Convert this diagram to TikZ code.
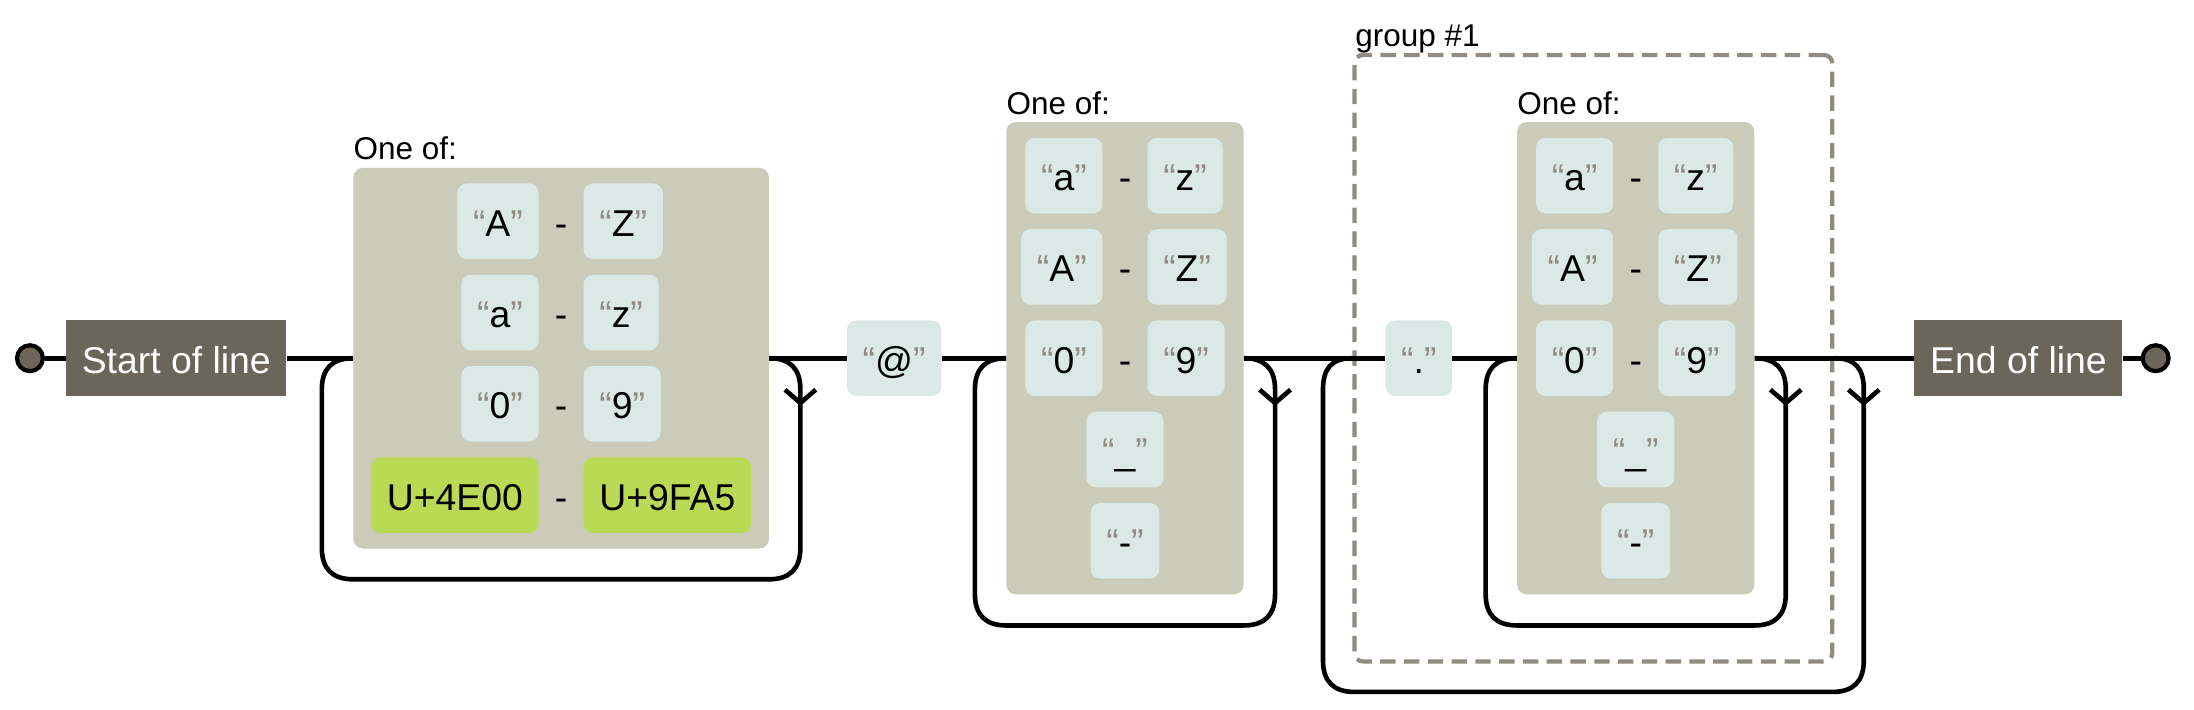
\documentclass[tikz,border=0pt]{standalone}
\usepackage{fontspec}
\setmainfont{Liberation Sans}
\usetikzlibrary{positioning}
\definecolor{setc}{HTML}{CBCBBA}
\definecolor{litc}{HTML}{DAE9E5}
\definecolor{rangec}{HTML}{BADA55}
\definecolor{anchc}{HTML}{6B6659}
\definecolor{quotec}{HTML}{908C83}
\newcommand\qt[1]{\textcolor{quotec}{“}#1\textcolor{quotec}{”}}
\newcommand\rrloop[4]{% node, xL, xR, yB
  \draw[conn] (#1.east) .. controls +(15,0) and +(0,-15) .. (#3,278.5)
    -- (#3,#4-22.5) .. controls +(0,15) and +(15,0) .. (#3-22.5,#4)
    -- (#2+22.5,#4) .. controls +(-15,0) and +(0,15) .. (#2,#4-22.5)
    -- (#2,278.5) .. controls +(0,-15) and +(-15,0) .. (#1.west);
  \draw[conn] (#3-11,278.5) -- (#3,288) -- (#3+11,278.5);}
\begin{document}
\begin{tikzpicture}[x=1pt,y=-1pt,
  conn/.style={line width=3.3pt, draw=black},
  txt/.style={text height=24pt, text depth=2.6pt, font=\fontsize{26.7}{32}\selectfont},
  lit/.style={txt, fill=litc, rounded corners=6.75pt, minimum height=54pt, inner xsep=11.25pt, inner ysep=0pt},
  rng/.style={lit, fill=rangec},
  dashn/.style={txt, inner sep=0pt, minimum height=54pt},
  setbox/.style={fill=setc, rounded corners=6.75pt, inner sep=0pt},
  anch/.style={txt, fill=anchc, text=white, minimum height=54pt, inner xsep=11.25pt, inner ysep=0pt},
  term/.style={circle, draw=black, fill=anchc, line width=3pt, minimum size=18.5pt, inner sep=0pt},
  lbl/.style={inner sep=0pt, font=\fontsize{22.5}{27}\selectfont},
  grpbox/.style={draw=quotec, line width=3pt, dash pattern=on 11pt off 6pt, rounded corners=6pt, inner sep=0pt},
]
\useasboundingbox (0,0) rectangle (1568,507);

% group box
\node[grpbox, minimum width=341.5pt, minimum height=433.4pt] (grp) at (1138.75,256) {};
\node[lbl, anchor=base west] (glbl) at (968.4,33.3) {group \#1};

% terminals
\node[term] (c0) at (21.4,256) {};
\node[anch, anchor=west] (start) at (47,256) {Start of line};
\node[anch, anchor=west] (endn) at (1368,256) {End of line};
\node[term] (c1) at (1540.6,256) {};

% charset 1
\node[setbox, minimum width=297pt, minimum height=272pt] (set1) at (401,256) {};
\node[lbl, anchor=base west] (l1) at (252.5,113.9) {One of:};
\node[dashn] (d11) at (401,158.1) {-};
\node[lit, left=11.25pt of d11] (a11) {\qt{A}};
\node[lit, right=11.25pt of d11] (b11) {\qt{Z}};
\node[dashn] (d12) at (401,223.4) {-};
\node[lit, left=11.25pt of d12] (a12) {\qt{a}};
\node[lit, right=11.25pt of d12] (b12) {\qt{z}};
\node[dashn] (d13) at (401,288.6) {-};
\node[lit, left=11.25pt of d13] (a13) {\qt{0}};
\node[lit, right=11.25pt of d13] (b13) {\qt{9}};
\node[dashn] (d14) at (401,353.9) {-};
\node[rng, left=11.25pt of d14] (a14) {U+4E00};
\node[rng, right=11.25pt of d14] (b14) {U+9FA5};

% @
\node[lit] (at) at (639,256) {\qt{@}};

% charset 2
\node[setbox, minimum width=169.5pt, minimum height=337.5pt] (set2) at (804,256) {};
\node[lbl, anchor=base west] (l2) at (719.25,82) {One of:};
\node[dashn] (d21) at (804,125.5) {-};
\node[lit, left=11.25pt of d21] (a21) {\qt{a}};
\node[lit, right=11.25pt of d21] (b21) {\qt{z}};
\node[dashn] (d22) at (804,190.75) {-};
\node[lit, left=11.25pt of d22] (a22) {\qt{A}};
\node[lit, right=11.25pt of d22] (b22) {\qt{Z}};
\node[dashn] (d23) at (804,256) {-};
\node[lit, left=11.25pt of d23] (a23) {\qt{0}};
\node[lit, right=11.25pt of d23] (b23) {\qt{9}};
\node[lit] (u2) at (804,321.25) {\qt{\_}};
\node[lit] (h2) at (804,386.5) {\qt{-}};

% dot
\node[lit] (dot) at (1014,256) {\qt{.}};

% charset 3
\node[setbox, minimum width=169.5pt, minimum height=337.5pt] (set3) at (1169,256) {};
\node[lbl, anchor=base west] (l3) at (1084.25,82) {One of:};
\node[dashn] (d31) at (1169,125.5) {-};
\node[lit, left=11.25pt of d31] (a31) {\qt{a}};
\node[lit, right=11.25pt of d31] (b31) {\qt{z}};
\node[dashn] (d32) at (1169,190.75) {-};
\node[lit, left=11.25pt of d32] (a32) {\qt{A}};
\node[lit, right=11.25pt of d32] (b32) {\qt{Z}};
\node[dashn] (d33) at (1169,256) {-};
\node[lit, left=11.25pt of d33] (a33) {\qt{0}};
\node[lit, right=11.25pt of d33] (b33) {\qt{9}};
\node[lit] (u3) at (1169,321.25) {\qt{\_}};
\node[lit] (h3) at (1169,386.5) {\qt{-}};

% main line
\draw[conn] (c0) -- (start);
\draw[conn] (start) -- (set1);
\draw[conn] (set1) -- (at);
\draw[conn] (at) -- (set2);
\draw[conn] (set2) -- (dot);
\draw[conn] (dot) -- (set3);
\draw[conn] (set3) -- (endn);
\draw[conn] (endn) -- (c1);

% repeat loops
\rrloop{set1}{230}{572}{414}
\rrloop{set2}{696.75}{911.25}{447}
\rrloop{set3}{1061.75}{1276.25}{447}
\rrloop{grp}{945.5}{1332}{494.5}
\end{tikzpicture}
\end{document}
